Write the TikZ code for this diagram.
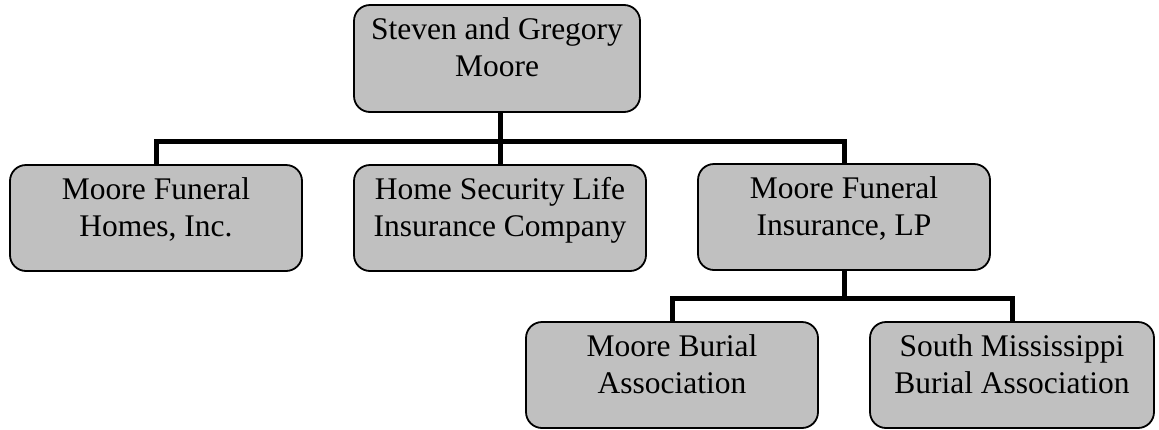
\documentclass[tikz,border=0pt]{standalone}
\usepackage{fontspec}
\setmainfont{Liberation Serif}
\usetikzlibrary{positioning}

\definecolor{boxgray}{RGB}{192,192,192}

\begin{document}
\begin{tikzpicture}[
    x=1pt, y=-1pt,
    every node/.style={align=center, font=\fontsize{31.5}{37}\selectfont},
    entity/.style={fill=boxgray, draw=black, line width=1.8pt, rounded corners=16pt,
        minimum width=292pt, minimum height=106pt, inner sep=2pt, text depth=22pt},
    link/.style={line width=5pt}
]
\useasboundingbox (0,0) rectangle (1159,429);

% Owners (top)
\node[entity, minimum width=286pt, minimum height=107pt] (owners) at (497,58.5) {Steven and Gregory\\Moore};

% Companies owned directly
\node[entity] (homes) at (156,218) {Moore Funeral\\Homes, Inc.};
\node[entity] (security) at (500,218) {Home Security Life\\Insurance Company};
\node[entity] (insurance) at (844,217) {Moore Funeral\\Insurance, LP};

% Burial associations
\node[entity] (burial) at (672,375) {Moore Burial\\Association};
\node[entity, minimum width=284pt] (south) at (1012,375) {South Mississippi\\Burial Association};

% Bus lines
\coordinate (upperbus) at (0,141);
\coordinate (lowerbus) at (0,298);

% Owners to companies
\draw[link] (security.north) -- (security.north |- upperbus);
\draw[link] (owners.south -| security.north) -- (security.north |- upperbus);
\draw[link] (homes.north) |- (insurance.north |- upperbus) -- (insurance.north);

% Insurance to burial associations
\draw[link] (insurance.south) -- (insurance.south |- lowerbus);
\draw[link] (burial.north) |- (south.north |- lowerbus) -- (south.north);

\end{tikzpicture}
\end{document}
